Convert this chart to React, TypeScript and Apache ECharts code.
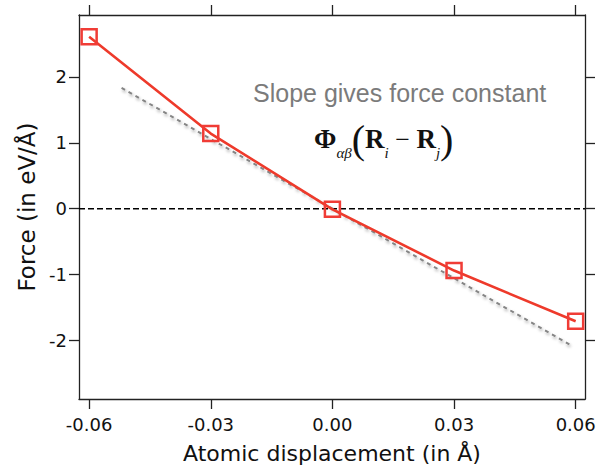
import React, { useEffect, useRef } from "react";
import * as echarts from "echarts";

const displacement = [-0.06, -0.03, 0.0, 0.03, 0.06];
const force = [2.61, 1.14, -0.01, -0.94, -1.71];
const fitX = [-0.052, 0.0593];
const fitY = [1.834, -2.09];
const xTicks = [-0.06, -0.03, 0.0, 0.03, 0.06];
const yTicks = [-2, -1, 0, 1, 2];
const xRange = [-0.0625, 0.0623];
const yRange = [-2.89, 2.94];

const FONT = "DejaVu Sans";
const RED = "#ee3a2b";

export default function App() {
  const ref = useRef<HTMLDivElement>(null);
  useEffect(() => {
    if (!ref.current) return;
    const chart = echarts.init(ref.current, undefined, { renderer: "svg" });
    const axisLine = {
      show: true,
      onZero: false,
      lineStyle: { color: "#222", width: 1.3 },
    };
    const tick = (vals: number[]) => ({
      show: true,
      inside: false,
      length: 10,
      customValues: vals,
      lineStyle: { color: "#222", width: 1.3 },
    });
    chart.setOption({
      animation: false,
      backgroundColor: "#fff",
      grid: { left: 79, top: 15, right: 23, bottom: 67.5, containLabel: false },
      xAxis: [
        {
          type: "value",
          min: xRange[0],
          max: xRange[1],
          position: "bottom",
          axisLine,
          axisTick: tick(xTicks),
          splitLine: { show: false },
          axisLabel: {
            customValues: xTicks,
            formatter: (v: number) => v.toFixed(2),
            fontFamily: FONT,
            fontSize: 18,
            color: "#111",
            margin: 16,
          },
          name: "Atomic displacement (in Å)",
          nameLocation: "middle",
          nameGap: 43,
          nameTextStyle: { fontFamily: FONT, fontSize: 22, color: "#111" },
        },
        {
          type: "value",
          min: xRange[0],
          max: xRange[1],
          position: "top",
          axisLine,
          axisTick: tick(xTicks),
          axisLabel: { show: false },
          splitLine: { show: false },
        },
      ],
      yAxis: [
        {
          type: "value",
          min: yRange[0],
          max: yRange[1],
          position: "left",
          axisLine,
          axisTick: tick(yTicks),
          splitLine: { show: false },
          axisLabel: {
            customValues: yTicks,
            formatter: (v: number) => String(v),
            fontFamily: FONT,
            fontSize: 18,
            color: "#111",
            margin: 12,
          },
          name: "Force (in eV/Å)",
          nameLocation: "middle",
          nameRotate: 90,
          nameGap: 39,
          nameTextStyle: { fontFamily: FONT, fontSize: 23, color: "#111" },
        },
        {
          type: "value",
          min: yRange[0],
          max: yRange[1],
          position: "right",
          axisLine,
          axisTick: tick(yTicks),
          axisLabel: { show: false },
          splitLine: { show: false },
        },
      ],
      series: [
        {
          type: "line",
          data: [
            [xRange[0], 0],
            [xRange[1], 0],
          ],
          symbol: "none",
          lineStyle: { color: "#000", width: 1.5, type: [6, 3] },
          silent: true,
          z: 1,
        },
        {
          type: "line",
          data: fitX.map((x, i) => [x, fitY[i]]),
          symbol: "none",
          lineStyle: {
            color: "#858585",
            width: 2,
            type: [4, 4],
            shadowColor: "rgba(0,0,0,0.35)",
            shadowBlur: 3,
            shadowOffsetX: 1,
            shadowOffsetY: 2,
          },
          z: 2,
        },
        {
          type: "line",
          data: displacement.map((x, i) => [x, force[i]]),
          symbol: "rect",
          symbolSize: 15,
          lineStyle: { color: RED, width: 2.6 },
          itemStyle: {
            color: "rgba(0,0,0,0)",
            borderColor: "#f03c36",
            borderWidth: 2.5,
          },
          z: 3,
        },
      ],
      graphic: [
        {
          type: "text",
          left: 253,
          top: 80,
          style: {
            text: "Slope gives force constant",
            fontFamily: "Liberation Sans",
            fontSize: 25,
            fill: "#7b7b7b",
          },
        },
        {
          type: "text",
          left: 314,
          top: 119,
          style: {
            text:
              "{phi|Φ}{sub|αβ}{par|(}{R|R}{sub|i}{op| − }{R|R}{sub|j}{par|)}",
            rich: {
              phi: {
                fontFamily: "Liberation Serif",
                fontWeight: "bold",
                fontSize: 27,
                fill: "#111",
                lineHeight: 42,
                verticalAlign: "middle",
              },
              R: {
                fontFamily: "Liberation Serif",
                fontWeight: "bold",
                fontSize: 27,
                fill: "#111",
                lineHeight: 42,
                verticalAlign: "middle",
              },
              op: {
                fontFamily: "Liberation Serif",
                fontSize: 26,
                fill: "#111",
                lineHeight: 42,
                verticalAlign: "middle",
              },
              par: {
                fontFamily: "Liberation Serif",
                fontSize: 40,
                fill: "#111",
                lineHeight: 42,
                verticalAlign: "middle",
              },
              sub: {
                fontFamily: "Liberation Serif",
                fontStyle: "italic",
                fontSize: 15,
                fill: "#111",
                lineHeight: 15,
                verticalAlign: "bottom",
              },
            },
          },
        },
      ],
    });
    return () => chart.dispose();
  }, []);
  return (
    <div
      ref={ref}
      style={{ position: "absolute", left: 0, top: 0, width: 608, height: 469 }}
    />
  );
}
